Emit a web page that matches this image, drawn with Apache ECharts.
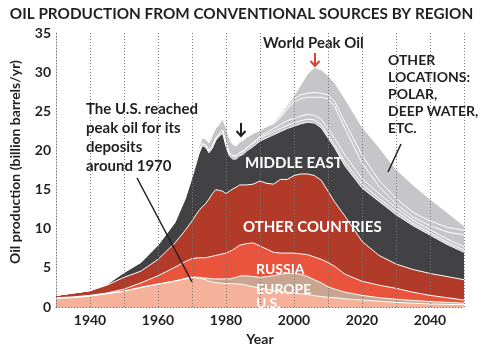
<!DOCTYPE html>
<html>
<head>
<meta charset="utf-8">
<script src="https://cdn.jsdelivr.net/npm/echarts@6/dist/echarts.min.js"></script>
<style>
  html, body { margin: 0; padding: 0; background: #fff; }
  #oil_chart { width: 483px; height: 351px; }
</style>
</head>
<body>
<div id="oil_chart"></div>
<script>
// years sampled along the x axis
var years = [1930,1935,1940,1945,1950,1955,1960,1965,1968,1970,
             1972,1973,1974,1975,1976,1977,1978,1979,1980,1981,
             1982,1983,1984,1985,1986,1988,1990,1992,1994,1996,
             1998,2000,2002,2004,2006,2008,2010,2012,2015,2020,
             2025,2030,2035,2040,2045,2050];

// top edge of each band (billion barrels/yr), bottom band first
var usTop = [1.1,1.2,1.4,1.7,2.0,2.5,2.9,3.3,3.6,3.8,
             3.7,3.6,3.5,3.3,3.2,3.1,3.1,3.0,3.0,3.0,
             3.0,2.95,2.95,2.9,2.8,2.6,2.4,2.3,2.1,2.0,
             1.9,1.8,1.7,1.6,1.45,1.35,1.25,1.2,1.05,0.9,
             0.75,0.6,0.5,0.4,0.35,0.3];
var europeTop = [1.15,1.25,1.45,1.75,2.05,2.55,2.95,3.35,3.65,3.85,
                 3.8,3.75,3.7,3.65,3.6,3.6,3.6,3.6,3.6,3.6,
                 3.7,3.8,3.95,4.0,4.0,3.9,3.8,3.9,4.0,4.2,
                 4.3,4.3,4.2,3.9,3.5,3.1,2.6,2.3,1.9,1.5,
                 1.2,1.0,0.85,0.7,0.6,0.5];
var russiaTop = [1.2,1.3,1.5,1.8,2.3,3.1,4.0,5.1,5.8,6.2,
                 6.3,6.3,6.3,6.4,6.5,6.6,6.7,6.8,6.9,7.1,
                 7.3,7.6,7.9,8.0,8.1,8.2,7.8,7.4,7.0,6.9,
                 6.9,6.9,6.8,6.7,6.4,6.1,5.7,5.2,4.2,3.3,
                 2.8,2.4,1.9,1.5,1.2,0.9];
var otherCountriesTop = [1.5,1.8,2.1,2.8,3.8,4.6,6.1,8.2,9.8,11.0,
                         12.3,12.8,13.2,13.8,14.5,15.0,14.9,14.8,14.5,14.8,
                         15.1,15.3,15.6,15.6,15.6,15.7,16.1,15.8,15.7,16.3,
                         16.3,16.8,17.0,17.0,16.8,16.2,14.8,13.4,11.6,8.4,
                         6.6,5.5,4.8,4.3,3.9,3.5];
var middleEastTop = [1.5,1.8,2.1,2.9,4.4,5.7,7.9,10.8,13.8,16.5,
                     19.5,20.6,20.4,19.7,20.3,21.3,21.8,22.2,20.5,19.3,
                     18.9,18.9,19.3,19.5,19.9,20.5,21.2,21.6,22.0,22.4,
                     22.8,23.1,23.4,23.6,23.5,22.9,21.6,20.3,18.0,15.2,
                     13.5,11.8,10.4,9.2,8.0,7.0];
// the "other locations" band is split by thin white lines
var otherATop = [1.5,1.8,2.1,2.95,4.5,5.8,8.0,10.9,14.0,16.8,
                 19.8,20.9,20.7,20.0,20.6,21.6,22.1,22.6,20.9,19.7,
                 19.3,19.3,19.7,19.9,20.3,20.9,21.6,22.0,22.4,22.8,
                 23.2,23.5,23.8,24.0,23.9,23.3,22.0,20.7,18.5,15.7,
                 13.9,12.2,10.7,9.5,8.3,7.3];
var otherBTop = [1.5,1.8,2.1,2.95,4.5,5.8,8.0,10.9,14.0,16.8,
                 19.8,20.9,20.7,20.0,20.6,21.6,22.1,22.6,20.9,19.7,
                 19.3,19.3,19.7,19.9,20.3,21.0,21.8,22.3,22.8,23.3,
                 23.8,24.1,24.4,24.6,24.5,24.0,22.8,21.5,19.4,16.4,
                 14.5,12.7,11.1,9.9,8.7,7.7];
var otherCTop = [1.55,1.85,2.15,3.0,4.6,5.9,8.2,11.1,14.3,17.2,
                 20.5,21.6,21.5,21.0,22.0,22.9,23.4,24.1,23.0,21.6,
                 20.8,20.6,21.1,21.3,21.7,22.2,22.6,23.1,23.4,24.2,
                 25.2,26.2,26.6,26.8,26.8,26.8,26.6,25.6,22.8,18.4,
                 15.4,13.2,11.5,10.4,9.6,9.2];
var otherDTop = [1.55,1.85,2.15,3.0,4.6,5.9,8.2,11.1,14.3,17.2,
                 20.5,21.6,21.5,21.0,22.0,22.9,23.4,24.1,23.0,21.6,
                 20.8,20.6,21.1,21.3,21.7,22.2,22.6,23.1,23.5,24.4,
                 25.5,26.6,27.1,27.3,27.4,27.3,27.1,26.2,23.6,19.4,
                 16.2,13.9,12.1,11.0,10.2,9.8];
var totalTop = [1.55,1.85,2.15,3.0,4.6,5.9,8.2,11.1,14.3,17.2,
                20.5,21.6,21.5,21.0,22.0,22.9,23.4,24.1,23.0,21.6,
                20.8,20.6,21.1,21.3,21.7,22.2,22.6,23.1,23.6,24.6,
                25.8,27.0,28.4,29.8,30.6,30.3,29.6,28.6,26.6,23.0,
                20.4,17.6,15.6,13.8,12.1,10.4];

var yTicks = [0,5,10,15,20,25,30,35];
var xLabelYears = [1940,1960,1980,2000,2020,2040];

var FONT = 'Lato';
var myChart = echarts.init(document.getElementById('oil_chart'));
myChart.setOption(getOption());

function band(name, tops, color) {
    return {
        name: name,
        type: 'line',
        data: years.map(function (y, i) { return [y, tops[i]]; }),
        symbol: 'none',
        silent: true,
        lineStyle: { color: '#ffffff', width: 1 },
        areaStyle: { color: color, opacity: 1 }
    };
}

function label(text, x, y, size, color) {
    return {
        type: 'text',
        left: x,
        top: y - size / 2 - 1,
        z: 20,
        style: {
            text: text,
            fill: color,
            font: 'bold ' + size + 'px ' + FONT
        }
    };
}

function arrow(x, y0, y1, color) {
    return {
        type: 'group',
        z: 20,
        children: [
            { type: 'line', shape: { x1: x, y1: y0, x2: x, y2: y1 }, style: { stroke: color, lineWidth: 2 } },
            { type: 'polyline', shape: { points: [[x - 4.5, y1 - 5], [x, y1], [x + 4.5, y1 - 5]] },
              style: { stroke: color, lineWidth: 2, fill: null } }
        ]
    };
}

function getOption() {
    var gray = '#c6c6c8';
    var textColor = '#231f20';
    var option = {
        animation: false,
        title: {
            text: 'OIL PRODUCTION FROM CONVENTIONAL SOURCES BY REGION',
            left: 'center',
            top: 2,
            textStyle: { fontFamily: FONT, fontWeight: 'bold', fontSize: 15.3, color: textColor }
        },
        grid: { left: 56, right: 19, top: 33, bottom: 39 },
        xAxis: {
            type: 'value',
            min: 1930,
            max: 2050,
            interval: 10,
            z: 5,
            name: 'Year',
            nameLocation: 'middle',
            nameGap: 24,
            nameTextStyle: { fontFamily: FONT, fontWeight: 'bold', fontSize: 14, color: textColor },
            axisLine: { lineStyle: { color: '#777', type: [1, 2], width: 1 } },
            axisTick: { show: false },
            axisLabel: {
                margin: 6,
                fontFamily: FONT, fontWeight: 'bold', fontSize: 14, color: textColor,
                formatter: function (v) { return xLabelYears.indexOf(v) >= 0 ? String(v) : ''; }
            },
            splitLine: { show: true, lineStyle: { color: '#777', type: [1, 2], width: 1 } }
        },
        yAxis: {
            type: 'value',
            min: 0,
            max: 35,
            interval: 5,
            z: 5,
            axisLine: { show: true, lineStyle: { color: '#777', type: [1, 2], width: 1 } },
            axisTick: { show: false },
            axisLabel: {
                margin: 5,
                fontFamily: FONT, fontWeight: 'bold', fontSize: 14, color: textColor,
                formatter: function (v) { return yTicks.indexOf(v) >= 0 ? String(v) : ''; }
            },
            splitLine: { show: false }
        },
        series: [
            band('Other locations', totalTop, gray),
            band('Other locations (band 4)', otherDTop, gray),
            band('Other locations (band 3)', otherCTop, gray),
            band('Other locations (band 2)', otherBTop, gray),
            band('Other locations (band 1)', otherATop, gray),
            band('Middle East', middleEastTop, '#424244'),
            band('Other countries', otherCountriesTop, '#b23a28'),
            band('Russia', russiaTop, '#ea543c'),
            band('Europe', europeTop, '#c9a491'),
            band('U.S.', usTop, '#f5b199')
        ],
        graphic: [
            {
                type: 'text',
                x: 15,
                y: 162,
                rotation: Math.PI / 2,
                z: 20,
                style: {
                    text: 'Oil production (billion barrels/yr)',
                    fill: textColor,
                    font: 'bold 14px ' + FONT,
                    align: 'center',
                    verticalAlign: 'middle',
                    textAlign: 'center',
                    textVerticalAlign: 'middle'
                }
            },
            label('World Peak Oil', 263, 44, 15, textColor),
            arrow(315, 53, 66, '#d9452f'),
            arrow(241, 123, 136, textColor),
            label('OTHER', 388, 61, 14, textColor),
            label('LOCATIONS:', 388, 78, 14, textColor),
            label('POLAR,', 388, 95, 14, textColor),
            label('DEEP WATER,', 388, 112, 14, textColor),
            label('ETC.', 388, 129, 14, textColor),
            { type: 'line', z: 20, shape: { x1: 401, y1: 144, x2: 388, y2: 172 }, style: { stroke: textColor, lineWidth: 1.5 } },
            label('The U.S. reached', 86, 110, 15, textColor),
            label('peak oil for its', 86, 129, 15, textColor),
            label('deposits', 86, 148, 15, textColor),
            label('around 1970', 86, 167, 15, textColor),
            { type: 'line', z: 20, shape: { x1: 137, y1: 178, x2: 192, y2: 282 }, style: { stroke: textColor, lineWidth: 1.5 } },
            label('MIDDLE EAST', 245, 164, 15, '#ffffff'),
            label('OTHER COUNTRIES', 243, 228, 15, '#ffffff'),
            label('RUSSIA', 256, 270, 14, '#ffffff'),
            label('EUROPE', 256, 290, 14, '#ffffff'),
            label('U.S.', 256, 304, 14, '#ffffff')
        ]
    };
    return option;
}
</script>
</body>
</html>
